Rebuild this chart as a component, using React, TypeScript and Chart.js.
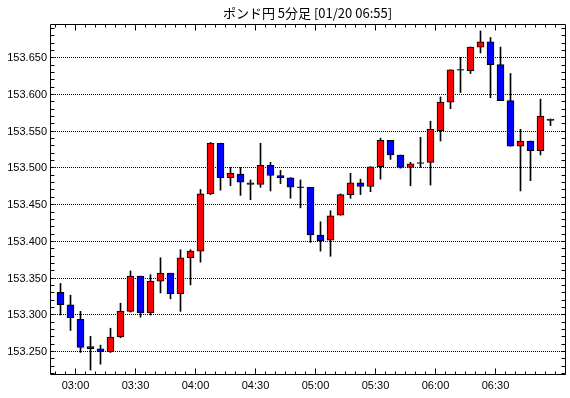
import React, { useEffect, useRef } from 'react';
import { Chart, registerables } from 'chart.js';

Chart.register(...registerables);

const chartTitle = 'ポンド円 5分足 [01/20 06:55]';

const times = [
  '02:50', '02:55', '03:00', '03:05', '03:10', '03:15', '03:20', '03:25', '03:30', '03:35',
  '03:40', '03:45', '03:50', '03:55', '04:00', '04:05', '04:10', '04:15', '04:20', '04:25',
  '04:30', '04:35', '04:40', '04:45', '04:50', '04:55', '05:00', '05:05', '05:10', '05:15',
  '05:20', '05:25', '05:30', '05:35', '05:40', '05:45', '05:50', '05:55', '06:00', '06:05',
  '06:10', '06:15', '06:20', '06:25', '06:30', '06:35', '06:40', '06:45', '06:50', '06:55',
];

const opens = [
  153.330, 153.313, 153.293, 153.256, 153.253, 153.249, 153.269, 153.304, 153.352, 153.302,
  153.345, 153.356, 153.328, 153.377, 153.386, 153.464, 153.533, 153.486, 153.491, 153.479,
  153.477, 153.503, 153.489, 153.486, 153.473, 153.473, 153.408, 153.401, 153.435, 153.463,
  153.479, 153.474, 153.501, 153.537, 153.517, 153.500, 153.506, 153.507, 153.550, 153.589,
  153.633, 153.632, 153.664, 153.671, 153.640, 153.591, 153.529, 153.536, 153.523, 153.566,
];

const highs = [
  153.342, 153.326, 153.304, 153.270, 153.258, 153.281, 153.315, 153.359, 153.352, 153.354,
  153.377, 153.356, 153.388, 153.388, 153.470, 153.534, 153.533, 153.500, 153.500, 153.483,
  153.533, 153.507, 153.496, 153.486, 153.483, 153.473, 153.426, 153.441, 153.464, 153.492,
  153.484, 153.501, 153.540, 153.537, 153.517, 153.507, 153.541, 153.563, 153.596, 153.633,
  153.650, 153.664, 153.686, 153.677, 153.664, 153.628, 153.552, 153.536, 153.593, 153.566,
];

const lows = [
  153.299, 153.278, 153.248, 153.224, 153.232, 153.248, 153.268, 153.303, 153.296, 153.299,
  153.329, 153.321, 153.304, 153.340, 153.371, 153.463, 153.469, 153.475, 153.462, 153.456,
  153.473, 153.468, 153.478, 153.458, 153.445, 153.398, 153.386, 153.379, 153.435, 153.458,
  153.463, 153.467, 153.484, 153.511, 153.499, 153.475, 153.500, 153.476, 153.536, 153.580,
  153.602, 153.628, 153.656, 153.595, 153.591, 153.529, 153.468, 153.482, 153.517, 153.557,
];

const closes = [
  153.313, 153.295, 153.255, 153.253, 153.249, 153.269, 153.304, 153.352, 153.302, 153.345,
  153.356, 153.328, 153.377, 153.386, 153.464, 153.533, 153.486, 153.492, 153.480, 153.477,
  153.503, 153.489, 153.486, 153.473, 153.473, 153.408, 153.400, 153.434, 153.463, 153.479,
  153.474, 153.501, 153.537, 153.517, 153.500, 153.505, 153.506, 153.552, 153.589, 153.633,
  153.633, 153.664, 153.671, 153.640, 153.591, 153.529, 153.536, 153.523, 153.570, 153.564,
];

const xTickLabels = ['03:00', '03:30', '04:00', '04:30', '05:00', '05:30', '06:00', '06:30'];
const yTickValues = [153.25, 153.3, 153.35, 153.4, 153.45, 153.5, 153.55, 153.6, 153.65];

const UP_COLOR = '#ff0000';
const DOWN_COLOR = '#0000ff';
const LABEL_FONT = '11px "Liberation Sans", Arial, sans-serif';
const TITLE_FONT = '13px "Noto Sans CJK JP", sans-serif';

export default function App() {
  const ref = useRef<HTMLCanvasElement>(null);

  useEffect(() => {
    if (!ref.current) return;
    const n = times.length;
    const bodies = times.map((_, i) => ({ x: i, y: [opens[i], closes[i]] }));
    const wicks = times.map((_, i) => ({ x: i, y: [lows[i], highs[i]] }));
    const dojis = times
      .map((_, i) => ({ x: i, y: opens[i], eq: opens[i] === closes[i] }))
      .filter((p) => p.eq)
      .map((p) => ({ x: p.x, y: p.y }));
    const colors = times.map((_, i) => (closes[i] >= opens[i] ? UP_COLOR : DOWN_COLOR));
    const majorPos = xTickLabels.map((l) => times.indexOf(l) - 0.5);

    const frame = {
      id: 'frame',
      beforeDatasetsDraw(chart: any) {
        const { ctx, chartArea: ca } = chart;
        const ys = chart.scales.y;
        ctx.save();
        ctx.strokeStyle = '#000';
        ctx.lineWidth = 1;
        ctx.setLineDash([1, 1]);
        yTickValues.forEach((v) => {
          const y = Math.round(ys.getPixelForValue(v)) + 0.5;
          ctx.beginPath();
          ctx.moveTo(ca.left + 1, y);
          ctx.lineTo(ca.right, y);
          ctx.stroke();
        });
        ctx.restore();
      },
      afterDatasetsDraw(chart: any) {
        const { ctx, chartArea: ca } = chart;
        const xs = chart.scales.x;
        const ys = chart.scales.y;
        const L = ca.left + 0.5;
        const R = ca.right + 0.5;
        const T = ca.top + 0.5;
        const B = ca.bottom - 0.5;
        ctx.save();
        ctx.strokeStyle = '#000';
        ctx.lineWidth = 1;
        ctx.setLineDash([]);
        ctx.beginPath();
        ctx.rect(L, T, R - L, B - T);
        ctx.stroke();

        // y minor ticks (inside, both sides)
        ctx.beginPath();
        for (let k = 15322; k <= 15369; k++) {
          const y = Math.round(ys.getPixelForValue(k / 100)) + 0.5;
          ctx.moveTo(L, y);
          ctx.lineTo(L + 4, y);
          ctx.moveTo(R, y);
          ctx.lineTo(R - 4, y);
        }
        // x ticks (inside, top and bottom)
        for (let i = -1; i < n; i++) {
          const pos = i + 0.5;
          const x = Math.round(xs.getPixelForValue(pos) - 0.5) + 0.5;
          const major = majorPos.some((p) => Math.abs(p - pos) < 1e-6);
          const len = major ? 6 : 3;
          ctx.moveTo(x, B);
          ctx.lineTo(x, B - len);
          ctx.moveTo(x, T);
          ctx.lineTo(x, T + len);
        }
        ctx.stroke();

        // labels
        ctx.fillStyle = '#000';
        ctx.font = LABEL_FONT;
        ctx.textAlign = 'right';
        ctx.textBaseline = 'middle';
        yTickValues.forEach((v) => {
          const y = Math.round(ys.getPixelForValue(v)) + 0.5;
          ctx.fillText(v.toFixed(3), ca.left - 3, y);
        });
        ctx.textAlign = 'center';
        xTickLabels.forEach((lbl, j) => {
          const x = xs.getPixelForValue(majorPos[j]);
          ctx.fillText(lbl, x, ca.bottom + 11);
        });

        ctx.font = TITLE_FONT;
        ctx.fillText(chartTitle, (ca.left + ca.right) / 2, 13);
        ctx.restore();
      },
    };

    const chart = new Chart(ref.current, {
      type: 'bar',
      data: {
        datasets: [
          {
            type: 'bar',
            data: wicks as any,
            backgroundColor: '#000',
            borderWidth: 0,
            barThickness: 1,
            grouped: false,
            order: 2,
          } as any,
          {
            type: 'bar',
            data: bodies as any,
            backgroundColor: colors,
            borderColor: '#000',
            borderWidth: 1,
            borderSkipped: false,
            barThickness: 7,
            grouped: false,
            order: 1,
          } as any,
          {
            type: 'line',
            data: dojis as any,
            showLine: false,
            pointStyle: 'line',
            pointRadius: 3.5,
            borderColor: '#000',
            backgroundColor: '#000',
            borderWidth: 1,
            order: 0,
          } as any,
        ],
      },
      options: {
        responsive: false,
        animation: false,
        events: [],
        layout: { padding: { left: 50, top: 24, right: 5, bottom: 23 } },
        plugins: {
          legend: { display: false },
          tooltip: { enabled: false },
          title: { display: false },
        },
        scales: {
          x: { type: 'linear', display: false, min: -1.05, max: 50.45, offset: false },
          y: { type: 'linear', display: false, min: 153.2173, max: 153.6954 },
        },
      } as any,
      plugins: [frame],
    });
    return () => chart.destroy();
  }, []);

  return (
    <div style={{ position: 'fixed', left: 0, top: 0, width: 570, height: 398, background: '#fff' }}>
      <canvas ref={ref} width={570} height={398} style={{ display: 'block', width: 570, height: 398 }} />
    </div>
  );
}
